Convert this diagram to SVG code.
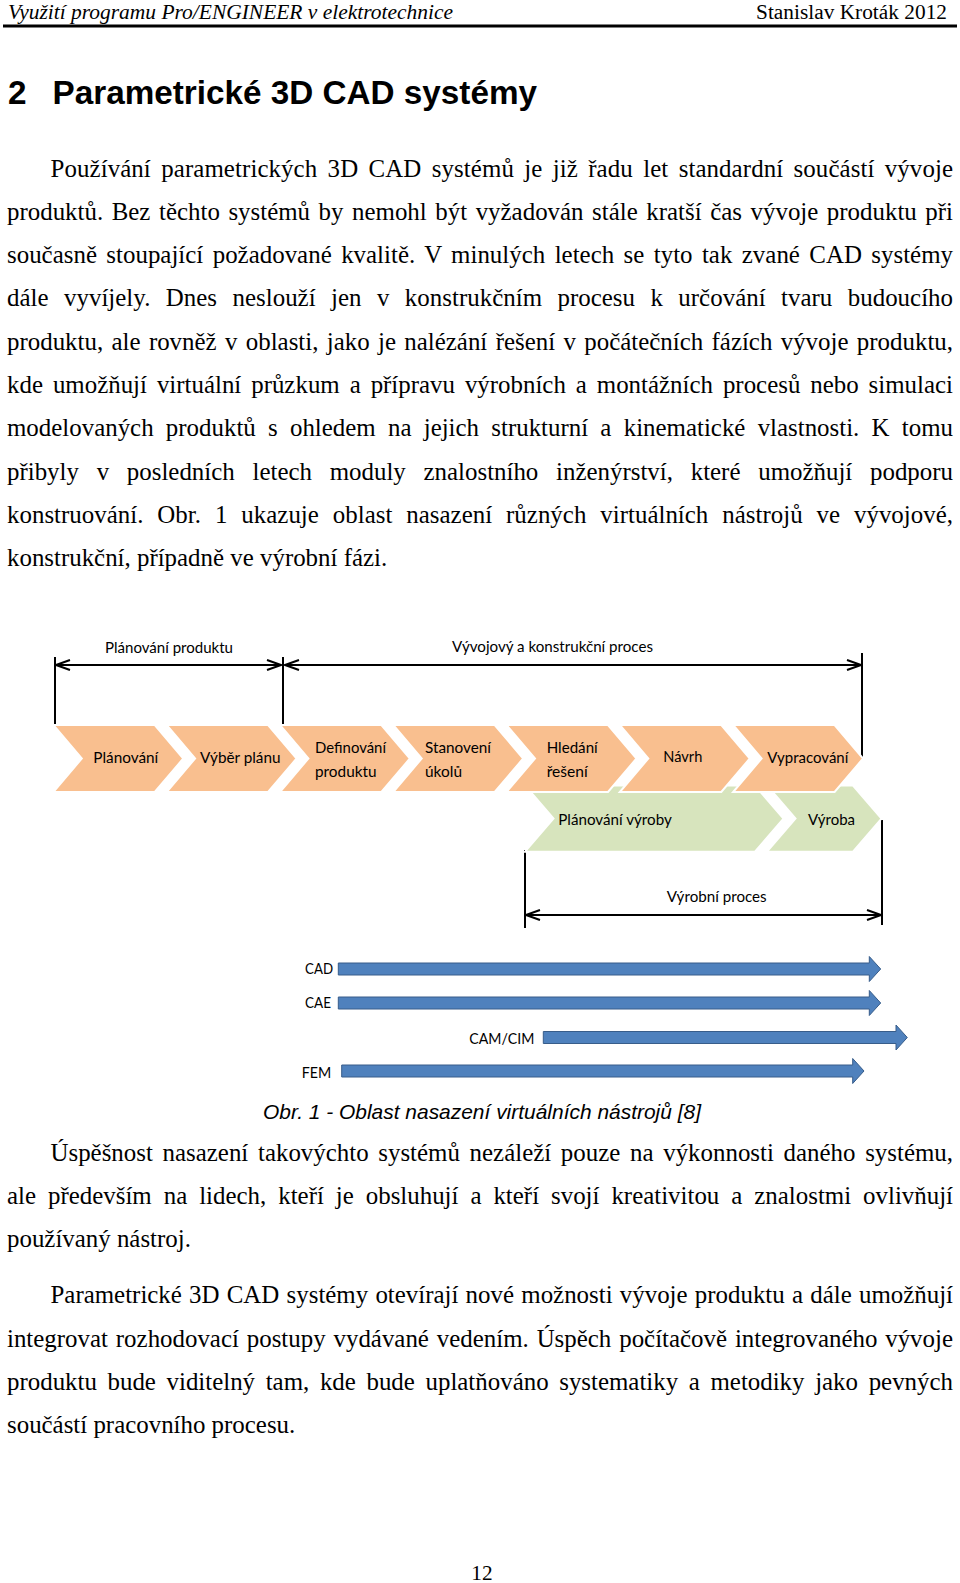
<svg xmlns="http://www.w3.org/2000/svg" width="960" height="1583" viewBox="0 0 960 1583">
<style>
.body{font-family:"Liberation Serif","Times New Roman",serif;font-size:24.9px;fill:#000}
.hdr{font-family:"Liberation Serif","Times New Roman",serif;font-size:21.3px;fill:#000}
.lbl{font-family:Lato,"Open Sans",sans-serif;font-size:16px;fill:#000}
.or{fill:#F9BF8F;stroke:#fff;stroke-width:2}
.gr{fill:#D7E4BD;stroke:#fff;stroke-width:2}
.bl{fill:#4F81BD;stroke:#385D8A;stroke-width:1}
</style>
<defs>
<marker id="oa" viewBox="0 0 16 12" refX="15" refY="6" markerWidth="16" markerHeight="12" markerUnits="userSpaceOnUse" orient="auto-start-reverse">
<path d="M1,1 L15,6 L1,11" fill="none" stroke="#000" stroke-width="2"/>
</marker>
</defs>
<rect width="960" height="1583" fill="#fff"/>

<!-- header -->
<text class="hdr" x="8" y="19" font-style="italic" textLength="445" lengthAdjust="spacingAndGlyphs">Využití programu Pro/ENGINEER v elektrotechnice</text>
<text class="hdr" x="756" y="19" textLength="191" lengthAdjust="spacing">Stanislav Kroták 2012</text>
<line x1="3" y1="26" x2="957" y2="26" stroke="#000" stroke-width="3"/>

<!-- heading -->
<text x="8" y="103.5" font-family="'Liberation Sans',Arial,sans-serif" font-weight="bold" font-size="33.3">2</text>
<text x="52.5" y="103.5" font-family="'Liberation Sans',Arial,sans-serif" font-weight="bold" font-size="33.3" textLength="484.5" lengthAdjust="spacingAndGlyphs">Parametrické 3D CAD systémy</text>

<!-- paragraph 1 -->
<text class="body" x="50.5" y="176.5" word-spacing="4.02" textLength="902.5" lengthAdjust="spacing">Používání parametrických 3D CAD systémů je již řadu let standardní součástí vývoje</text>
<text class="body" x="7" y="219.8" word-spacing="2.33" textLength="946" lengthAdjust="spacing">produktů. Bez těchto systémů by nemohl být vyžadován stále kratší čas vývoje produktu při</text>
<text class="body" x="7" y="263.1" word-spacing="3.17" textLength="946" lengthAdjust="spacing">současně stoupající požadované kvalitě. V minulých letech se tyto tak zvané CAD systémy</text>
<text class="body" x="7" y="306.4" word-spacing="9.17" textLength="946" lengthAdjust="spacing">dále vyvíjely. Dnes neslouží jen v konstrukčním procesu k určování tvaru budoucího</text>
<text class="body" x="7" y="349.7" word-spacing="2.12" textLength="946" lengthAdjust="spacing">produktu, ale rovněž v oblasti, jako je nalézání řešení v počátečních fázích vývoje produktu,</text>
<text class="body" x="7" y="393" word-spacing="3.7" textLength="946" lengthAdjust="spacing">kde umožňují virtuální průzkum a přípravu výrobních a montážních procesů nebo simulaci</text>
<text class="body" x="7" y="436.3" word-spacing="6.03" textLength="946" lengthAdjust="spacing">modelovaných produktů s ohledem na jejich strukturní a kinematické vlastnosti. K tomu</text>
<text class="body" x="7" y="479.6" word-spacing="11.5" textLength="946" lengthAdjust="spacing">přibyly v posledních letech moduly znalostního inženýrství, které umožňují podporu</text>
<text class="body" x="7" y="522.9" word-spacing="7.68" textLength="946" lengthAdjust="spacing">konstruování. Obr. 1 ukazuje oblast nasazení různých virtuálních nástrojů ve vývojové,</text>
<text class="body" x="7" y="566.2">konstrukční, případně ve výrobní fázi.</text>

<!-- diagram: connectors -->
<g id="connectors" stroke="#000" stroke-width="2" fill="none">
<line x1="55" y1="657" x2="55" y2="724"/>
<line x1="283" y1="657" x2="283" y2="725"/>
<line x1="862" y1="653" x2="862" y2="758"/>
<line x1="56" y1="665" x2="281" y2="665" marker-start="url(#oa)" marker-end="url(#oa)"/>
<line x1="285" y1="665" x2="861" y2="665" marker-start="url(#oa)" marker-end="url(#oa)"/>
<line x1="525" y1="850" x2="525" y2="928"/>
<line x1="882" y1="820" x2="882" y2="925"/>
<line x1="526" y1="915" x2="881" y2="915" marker-start="url(#oa)" marker-end="url(#oa)"/>
</g>

<!-- dimension labels -->
<g id="dim-planovani-produktu"><text class="lbl" x="105" y="653" textLength="128" lengthAdjust="spacingAndGlyphs">Plánování produktu</text></g>
<g id="dim-vyvojovy"><text class="lbl" x="452" y="652" textLength="201" lengthAdjust="spacingAndGlyphs">Vývojový a konstrukční proces</text></g>
<g id="dim-vyrobni"><text class="lbl" x="666.7" y="901.5" textLength="100" lengthAdjust="spacingAndGlyphs">Výrobní proces</text></g>

<!-- green chevrons -->
<g id="planovani-vyroby">
<polygon class="gr" points="525,785.5 755,785.5 783.5,818.6 755,851.7 525,851.7 553.5,818.6"/>
<text class="lbl" x="558.3" y="825" textLength="113.5" lengthAdjust="spacingAndGlyphs">Plánování výroby</text>
</g>
<g id="vyroba">
<polygon class="gr" points="767,785.5 853,785.5 881.5,818.6 853,851.7 767,851.7 795.5,818.6"/>
<text class="lbl" x="808" y="825" textLength="47" lengthAdjust="spacingAndGlyphs">Výroba</text>
</g>

<!-- orange chevrons -->
<g id="planovani">
<polygon class="or" points="53.3,725 154.8,725 183.3,758.5 154.8,792 53.3,792 81.8,758.5"/>
<text class="lbl" x="93.3" y="763" textLength="65" lengthAdjust="spacingAndGlyphs">Plánování</text>
</g>
<g id="vyber-planu">
<polygon class="or" points="166.6,725 268.1,725 296.6,758.5 268.1,792 166.6,792 195.1,758.5"/>
<text class="lbl" x="200" y="763" textLength="80.5" lengthAdjust="spacingAndGlyphs">Výběr plánu</text>
</g>
<g id="definovani-produktu">
<polygon class="or" points="279.9,725 381.4,725 409.9,758.5 381.4,792 279.9,792 308.4,758.5"/>
<text class="lbl" x="315" y="752.5" textLength="71" lengthAdjust="spacingAndGlyphs">Definování</text>
<text class="lbl" x="315" y="776.5" textLength="61.5" lengthAdjust="spacingAndGlyphs">produktu</text>
</g>
<g id="stanoveni-ukolu">
<polygon class="or" points="393.2,725 494.7,725 523.2,758.5 494.7,792 393.2,792 421.7,758.5"/>
<text class="lbl" x="425" y="752.5" textLength="66" lengthAdjust="spacingAndGlyphs">Stanovení</text>
<text class="lbl" x="425" y="776.5" textLength="37" lengthAdjust="spacingAndGlyphs">úkolů</text>
</g>
<g id="hledani-reseni">
<polygon class="or" points="506.5,725 608,725 636.5,758.5 608,792 506.5,792 535,758.5"/>
<text class="lbl" x="546.7" y="752.5" textLength="51" lengthAdjust="spacingAndGlyphs">Hledání</text>
<text class="lbl" x="546.7" y="776.5" textLength="41" lengthAdjust="spacingAndGlyphs">řešení</text>
</g>
<g id="navrh">
<polygon class="or" points="619.8,725 721.3,725 749.8,758.5 721.3,792 619.8,792 648.3,758.5"/>
<text class="lbl" x="663.3" y="761.5" textLength="39" lengthAdjust="spacingAndGlyphs">Návrh</text>
</g>
<g id="vypracovani">
<polygon class="or" points="733.1,725 834.6,725 863.1,758.5 834.6,792 733.1,792 761.6,758.5"/>
<text class="lbl" x="767.3" y="763" textLength="81" lengthAdjust="spacingAndGlyphs">Vypracování</text>
</g>

<!-- blue tool arrows -->
<g id="cad">
<polygon class="bl" points="338.3,963 869.3,963 869.3,956.5 880.7,969 869.3,981.5 869.3,975 338.3,975"/>
<text class="lbl" x="305" y="974" textLength="28" lengthAdjust="spacingAndGlyphs">CAD</text>
</g>
<g id="cae">
<polygon class="bl" points="338.3,997 869.3,997 869.3,990.5 880.7,1003 869.3,1015.5 869.3,1009 338.3,1009"/>
<text class="lbl" x="305" y="1007.5" textLength="26" lengthAdjust="spacingAndGlyphs">CAE</text>
</g>
<g id="cam-cim">
<polygon class="bl" points="543.3,1031.5 896,1031.5 896,1025 907.3,1037.5 896,1050 896,1043.5 543.3,1043.5"/>
<text class="lbl" x="469.3" y="1044" textLength="65" lengthAdjust="spacingAndGlyphs">CAM/CIM</text>
</g>
<g id="fem">
<polygon class="bl" points="341.7,1065 852.7,1065 852.7,1058.5 864,1071 852.7,1083.5 852.7,1077 341.7,1077"/>
<text class="lbl" x="301.7" y="1077.5" textLength="29.5" lengthAdjust="spacingAndGlyphs">FEM</text>
</g>

<!-- caption -->
<text x="263" y="1119" font-family="'Liberation Sans',Arial,sans-serif" font-style="italic" font-size="20.9" textLength="438" lengthAdjust="spacingAndGlyphs">Obr. 1 - Oblast nasazení virtuálních nástrojů [8]</text>

<!-- paragraph 2 -->
<text class="body" x="50.5" y="1160.8" word-spacing="3.46" textLength="902.5" lengthAdjust="spacing">Úspěšnost nasazení takovýchto systémů nezáleží pouze na výkonnosti daného systému,</text>
<text class="body" x="7" y="1204.1" word-spacing="5.73" textLength="946" lengthAdjust="spacing">ale především na lidech, kteří je obsluhují a kteří svojí kreativitou a znalostmi ovlivňují</text>
<text class="body" x="7" y="1247.4">používaný nástroj.</text>

<!-- paragraph 3 -->
<text class="body" x="50.5" y="1303.2" word-spacing="1.0" textLength="902.5" lengthAdjust="spacing">Parametrické 3D CAD systémy otevírají nové možnosti vývoje produktu a dále umožňují</text>
<text class="body" x="7" y="1346.5" word-spacing="1.64" textLength="946" lengthAdjust="spacing">integrovat rozhodovací postupy vydávané vedením. Úspěch počítačově integrovaného vývoje</text>
<text class="body" x="7" y="1389.8" word-spacing="4.39" textLength="946" lengthAdjust="spacing">produktu bude viditelný tam, kde bude uplatňováno systematiky a metodiky jako pevných</text>
<text class="body" x="7" y="1433.1">součástí pracovního procesu.</text>

<!-- page number -->
<text class="hdr" x="482" y="1580" text-anchor="middle">12</text>
</svg>
